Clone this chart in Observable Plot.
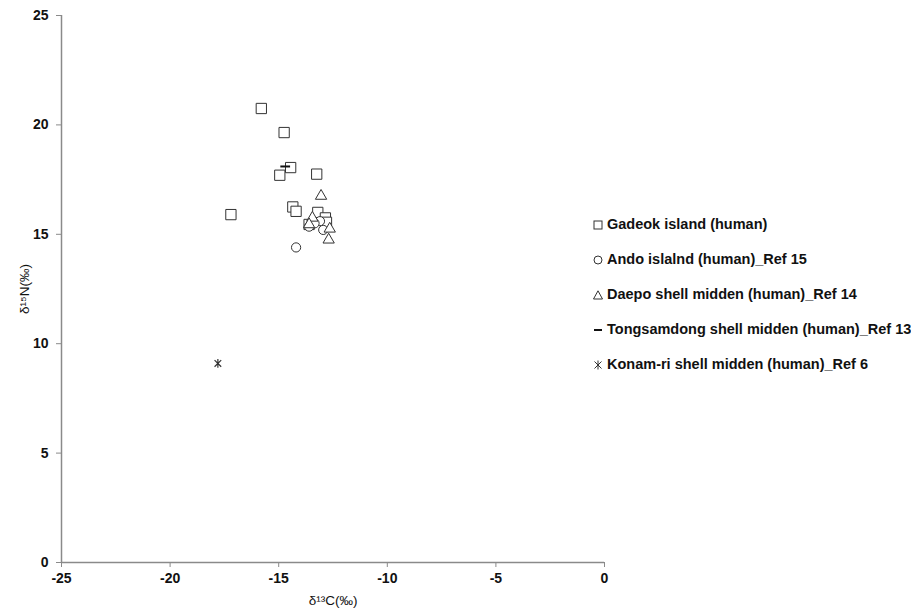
<!DOCTYPE html>
<html>
<head>
<meta charset="utf-8">
<script src="https://cdn.jsdelivr.net/npm/d3@7"></script>
<script src="https://cdn.jsdelivr.net/npm/@observablehq/plot@0.6"></script>
<style>
  html, body { margin: 0; padding: 0; background: #fff; }
  #wrap { position: relative; width: 911px; height: 616px; font-family: "Liberation Sans", Arial, sans-serif; }
  #legend { position: absolute; left: 592px; top: 216px; font-weight: bold; font-size: 14.5px; color: #111; }
  #legend .row { height: 35px; display: flex; align-items: flex-start; white-space: nowrap; }
  #legend svg { margin-right: 3px; margin-top: 3px; }
</style>
</head>
<body>
<div id="wrap"><div id="legend"></div></div>
<script>
// Series (δ13C, δ15N)
const gadeok = [
  [-15.8, 20.75], [-14.75, 19.65], [-14.45, 18.05], [-14.95, 17.7], [-13.25, 17.75],
  [-17.2, 15.9], [-14.35, 16.25], [-14.2, 16.05], [-13.2, 16.0], [-12.85, 15.75],
  [-13.6, 15.45], [-12.8, 15.55]
];
const ando = [[-14.2, 14.4], [-13.1, 15.6], [-12.95, 15.2], [-13.6, 15.35], [-13.35, 15.5]];
const daepo = [[-13.05, 16.75], [-12.65, 15.25], [-12.7, 14.75], [-13.45, 15.75], [-13.6, 15.45]];
const tongsamdong = [[-14.7, 18.1]];
const konamri = [[-17.8, 9.1]];

const seriesNames = [
  "Gadeok island (human)",
  "Ando islalnd (human)_Ref 15",
  "Daepo shell midden (human)_Ref 14",
  "Tongsamdong shell midden (human)_Ref 13",
  "Konam-ri shell midden (human)_Ref 6"
];
const xTicks = [-25, -20, -15, -10, -5, 0];
const yTicks = [0, 5, 10, 15, 20, 25];

const dash = { draw(ctx, size) { const r = Math.sqrt(size) * 0.55; ctx.moveTo(-r, 0); ctx.lineTo(r, 0); } };
const star = { draw(ctx, size) {
  const r = Math.sqrt(size) * 0.5, d = r * 0.75;
  ctx.moveTo(0, -r); ctx.lineTo(0, r);
  ctx.moveTo(-d, -d); ctx.lineTo(d, d);
  ctx.moveTo(-d, d); ctx.lineTo(d, -d);
} };

const ink = "#333";
const axisColor = "#8a8a8a";
const fmt = d => String(d);

const chart = Plot.plot({
  width: 911, height: 616,
  marginLeft: 61, marginRight: 307, marginTop: 15, marginBottom: 54,
  style: { fontFamily: "Liberation Sans, Arial, sans-serif", background: "transparent" },
  x: { domain: [-25, 0] },
  y: { domain: [0, 25] },
  marks: [
    Plot.axisX({ ticks: xTicks, tickFormat: fmt, tickSize: 5, tickPadding: 6, stroke: axisColor,
      fontSize: 14, fontWeight: "bold", fill: "#111",
      label: "δ¹³C(‰)", labelAnchor: "center", labelOffset: 42, labelArrow: false }),
    Plot.axisY({ ticks: yTicks, tickFormat: fmt, tickSize: 5, tickPadding: 8, stroke: axisColor,
      fontSize: 14, fontWeight: "bold", fill: "#111",
      label: "δ¹⁵N(‰)", labelAnchor: "center", labelOffset: 42, labelArrow: false }),
    Plot.ruleX([-25], { stroke: axisColor, strokeWidth: 1.5 }),
    Plot.ruleY([0], { stroke: axisColor, strokeWidth: 1.5 }),
    Plot.dot(gadeok, { x: d => d[0], y: d => d[1], symbol: "square", r: 5.8, fill: "white", stroke: ink, strokeWidth: 1 }),
    Plot.dot(ando, { x: d => d[0], y: d => d[1], symbol: "circle", r: 4.6, fill: "white", stroke: ink, strokeWidth: 1 }),
    Plot.dot(daepo, { x: d => d[0], y: d => d[1], symbol: "triangle", r: 4.2, fill: "white", stroke: ink, strokeWidth: 1 }),
    Plot.dot(tongsamdong, { x: d => d[0], y: d => d[1], symbol: dash, r: 5, fill: "none", stroke: "#111", strokeWidth: 2 }),
    Plot.dot(konamri, { x: d => d[0], y: d => d[1], symbol: star, r: 5, fill: "none", stroke: ink, strokeWidth: 1.2 })
  ]
});
// axis label font tweaks
chart.querySelectorAll("g[aria-label='x-axis label'] text, g[aria-label='y-axis label'] text").forEach(t => {
  t.setAttribute("font-weight", "normal"); t.setAttribute("font-size", "13.5");
});
document.getElementById("wrap").prepend(chart);

// Legend
const legendSymbols = [
  `<rect x="2" y="2" width="8" height="8" fill="white" stroke="${ink}"/>`,
  `<circle cx="6" cy="6" r="4" fill="white" stroke="${ink}"/>`,
  `<path d="M6 1.8 L10.5 10 L1.5 10 Z" fill="white" stroke="${ink}"/>`,
  `<line x1="2" y1="6" x2="10" y2="6" stroke="#111" stroke-width="2"/>`,
  `<path d="M6 1.5V10.5M2.5 2.5L9.5 9.5M2.5 9.5L9.5 2.5" stroke="${ink}" stroke-width="1"/>`
];
const legend = document.getElementById("legend");
seriesNames.forEach((name, i) => {
  const row = document.createElement("div");
  row.className = "row";
  row.innerHTML = `<svg width="12" height="12">${legendSymbols[i]}</svg><span>${name}</span>`;
  legend.appendChild(row);
});
</script>
</body>
</html>
